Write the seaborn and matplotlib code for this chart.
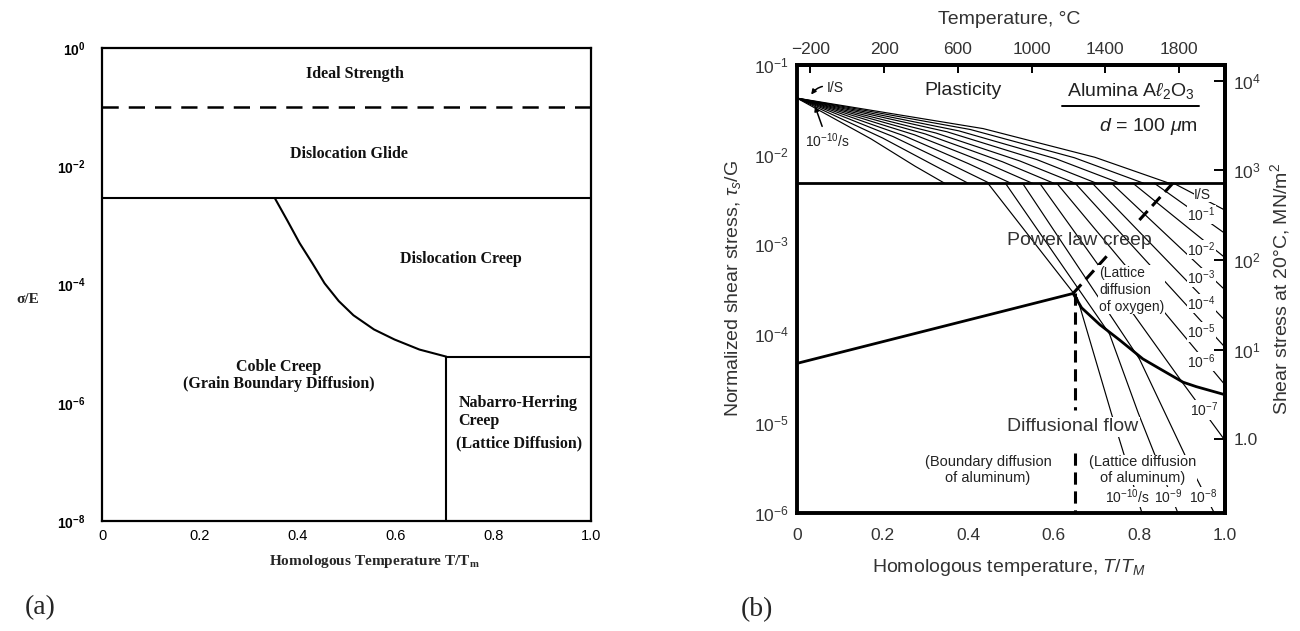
import matplotlib
matplotlib.use("Agg")
import numpy as np
import pandas as pd
import matplotlib.pyplot as plt
import seaborn as sns
from matplotlib.ticker import NullLocator

sns.set_theme(style="white")
plt.rcParams["font.family"] = ["Liberation Sans", "DejaVu Sans"]
plt.rcParams["mathtext.fontset"] = "custom"
plt.rcParams["mathtext.rm"] = "Liberation Sans"
plt.rcParams["mathtext.it"] = "Liberation Sans:italic"
plt.rcParams["mathtext.bf"] = "Liberation Sans:bold"
plt.rcParams["axes.edgecolor"] = "black"

SERIF = ["Liberation Serif", "DejaVu Serif"]

# ======================= DATA : panel (a) =======================
a_xticks = [0, 0.2, 0.4, 0.6, 0.8, 1.0]
a_xticklabels = ["0", "0.2", "0.4", "0.6", "0.8", "1.0"]
a_ytick_exp = [0, -2, -4, -6, -8]
a_ideal_logy = -1.0                # dashed: ideal strength / glide
a_glide_logy = -2.53               # glide / creep boundary
a_creep_x = [0.354, 0.379, 0.404, 0.430, 0.455, 0.484, 0.514, 0.556, 0.598, 0.649, 0.704]
a_creep_logy = [-2.55, -2.92, -3.30, -3.64, -3.98, -4.28, -4.52, -4.76, -4.93, -5.10, -5.22]
a_nh_x = 0.704                     # Coble / Nabarro-Herring boundary
a_nh_logy = -5.22
a_label_text = ["Ideal Strength", "Dislocation Glide", "Dislocation Creep",
                "Coble Creep", "(Grain Boundary Diffusion)",
                "Nabarro-Herring", "Creep", "(Lattice Diffusion)"]
a_label_x = [0.518, 0.504, 0.733, 0.362, 0.362, 0.729, 0.729, 0.723]
a_label_logy = [-0.44, -1.79, -3.57, -5.39, -5.68, -6.00, -6.31, -6.68]
a_label_ha = ["center", "center", "center", "center", "center", "left", "left", "left"]

# ======================= DATA : panel (b) =======================
b_xticks = [0, 0.2, 0.4, 0.6, 0.8, 1.0]
b_xticklabels = ["0", "0.2", "0.4", "0.6", "0.8", "1.0"]
b_ytick_exp = [-1, -2, -3, -4, -5, -6]
b_temp_ticks = [-200, 200, 600, 1000, 1400, 1800]     # deg C
b_melt_K = 2323.0
b_shear_mod = 1.5e5                                    # MN/m^2
b_stress_ticks = [1.0, 10, 100, 1000, 10000]
b_stress_labels = ["1.0", "$10^1$", "$10^2$", "$10^3$", "$10^4$"]

b_rates = ["I/S", "$10^{-1}$", "$10^{-2}$", "$10^{-3}$", "$10^{-4}$", "$10^{-5}$",
           "$10^{-6}$", "$10^{-7}$", "$10^{-8}$", "$10^{-9}$", "$10^{-10}$"]
b_plastic_logy = -2.32                                 # plasticity / power-law boundary
b_origin_logy = -1.37
# plasticity part of the strain-rate contours
b_pla_x1 = [0.435, 0.405, 0.378, 0.350, 0.325, 0.300, 0.275, 0.250, 0.225, 0.200, 0.173]
b_pla_y1 = [-1.71, -1.72, -1.735, -1.745, -1.76, -1.77, -1.78, -1.79, -1.80, -1.815, -1.825]
b_pla_x2 = [0.696, 0.648, 0.604, 0.560, 0.520, 0.480, 0.440, 0.400, 0.360, 0.320, 0.276]
b_pla_y2 = [-2.03, -2.035, -2.045, -2.055, -2.07, -2.08, -2.09, -2.10, -2.11, -2.12, -2.13]
b_pla_xc = [0.870, 0.810, 0.755, 0.700, 0.650, 0.600, 0.550, 0.500, 0.450, 0.400, 0.345]
# power-law part
b_pl_x0 = [0.880, 0.835, 0.785, 0.735, 0.690, 0.650, 0.607, 0.567, 0.527, 0.487, 0.446]
b_pl_x1 = [1.0, 1.0, 1.0, 1.0, 1.0, 1.0, 1.0, 0.900, 0.800, 0.730, 0.655]
b_pl_y1 = [-2.62, -2.88, -3.15, -3.51, -3.85, -4.15, -4.57, -4.54, -4.28, -4.00, -3.60]
# diffusional-flow part (rates 1e-7 .. 1e-10)
b_df_x = [[0.900, 1.0], [0.800, 0.914, 0.975], [0.730, 0.797, 0.890], [0.655, 0.734, 0.806]]
b_df_y = [[-4.54, -5.19], [-4.28, -5.43, -6.0], [-4.00, -4.88, -6.0], [-3.60, -4.88, -6.0]]

b_bnd_x = [0.0, 0.645]
b_bnd_y = [-4.33, -3.55]
b_curve_x = [0.645, 0.665, 0.708, 0.754, 0.808, 0.844, 0.902, 0.933, 1.0]
b_curve_y = [-3.55, -3.71, -3.90, -4.07, -4.28, -4.38, -4.54, -4.59, -4.68]
b_dash_a_x = [0.645, 0.732]; b_dash_a_y = [-3.55, -3.09]
b_dash_b_x = [0.800, 0.878]; b_dash_b_y = [-2.73, -2.32]
b_vdash_x = 0.650
b_vdash_y1 = [-3.55, -4.85]
b_vdash_y2 = [-5.33, -6.0]

b_ratelab_x = [0.948, 0.945, 0.945, 0.945, 0.945, 0.945, 0.945, 0.950]
b_ratelab_y = [-2.45, -2.67, -3.06, -3.37, -3.66, -3.98, -4.31, -4.85]
b_botlab_text = ["$10^{-10}$/s", "$10^{-9}$", "$10^{-8}$"]
b_botlab_x = [0.772, 0.866, 0.950]
b_botlab_y = -5.82

# ======================= FIGURE =======================
fig = plt.figure(figsize=(13, 6.31), dpi=100)
fig.patch.set_facecolor("white")

# ----------------------- panel (a) -----------------------
axa = fig.add_axes([0.0785, 0.1743, 0.3762, 0.7496])
axa.set_yscale("log")
axa.set_xlim(0, 1)
axa.set_ylim(1e-8, 1)

axa.plot([0, 1], [10 ** a_ideal_logy] * 2, color="black", lw=1.8, ls=(0, (6.5, 4)))
axa.plot([0, 1], [10 ** a_glide_logy] * 2, color="black", lw=1.5)
dfa = pd.DataFrame({"x": a_creep_x, "y": [10 ** v for v in a_creep_logy]})
sns.lineplot(data=dfa, x="x", y="y", color="black", lw=1.5, sort=False,
             estimator=None, ax=axa)
axa.plot([a_nh_x, 1], [10 ** a_nh_logy] * 2, color="black", lw=1.5)
axa.plot([a_nh_x, a_nh_x], [1e-8, 10 ** a_nh_logy], color="black", lw=1.5)

for t, x, ly, ha in zip(a_label_text, a_label_x, a_label_logy, a_label_ha):
    axa.text(x, 10 ** ly, t, ha=ha, va="center", fontsize=11.5,
             fontweight="bold", family=SERIF, color="#111111")

axa.set_xticks(a_xticks)
axa.set_xticklabels(a_xticklabels)
axa.set_yticks([10.0 ** e for e in a_ytick_exp])
axa.set_yticklabels([r"$\mathbf{10^{%d}}$" % e for e in a_ytick_exp])
axa.yaxis.set_minor_locator(NullLocator())
axa.tick_params(axis="both", which="major", direction="in", length=16, width=1.6,
                color="black", labelcolor="black")
axa.tick_params(axis="x", labelsize=10.5, pad=6)
axa.tick_params(axis="y", labelsize=10, pad=12)
axa.set_xlabel("")
axa.set_ylabel("")
for s in axa.spines.values():
    s.set_linewidth(1.6)
    s.set_color("black")

fig.text(28 / 1300, 1 - 299 / 631, "σ/E", ha="center", va="center",
         fontsize=11, fontweight="bold", family=SERIF)
fig.text(374 / 1300, 1 - 562 / 631, "Homologous Temperature T/T$_\\mathregular{m}$",
         ha="center", va="center", fontsize=11, fontweight="bold", family=SERIF)
fig.text(40 / 1300, 1 - 608 / 631, "(a)", ha="center", va="center",
         fontsize=20, family=SERIF)

# ----------------------- panel (b) -----------------------
axb = fig.add_axes([0.6131, 0.1870, 0.3292, 0.7100])
axb.set_yscale("log")
axb.set_xlim(0, 1)
axb.set_ylim(1e-6, 1e-1)

rows = []
sid = 0
for i in range(len(b_rates)):
    xs = [0.0, b_pla_x1[i], b_pla_x2[i], b_pla_xc[i]]
    ys = [b_origin_logy, b_pla_y1[i], b_pla_y2[i], b_plastic_logy]
    rows += [(sid, x, 10 ** y) for x, y in zip(xs, ys)]
    sid += 1
    xs = [b_pl_x0[i], b_pl_x1[i]]
    ys = [b_plastic_logy, b_pl_y1[i]]
    rows += [(sid, x, 10 ** y) for x, y in zip(xs, ys)]
    sid += 1
for xs, ys in zip(b_df_x, b_df_y):
    rows += [(sid, x, 10 ** y) for x, y in zip(xs, ys)]
    sid += 1
dfb = pd.DataFrame(rows, columns=["seg", "x", "y"])
sns.lineplot(data=dfb, x="x", y="y", units="seg", estimator=None, sort=False,
             color="black", lw=0.85, ax=axb, legend=False)

axb.plot([0, 1], [10 ** b_plastic_logy] * 2, color="black", lw=2.0)
dfc = pd.DataFrame({"x": b_bnd_x + b_curve_x[1:],
                    "y": [10 ** v for v in b_bnd_y + b_curve_y[1:]]})
sns.lineplot(data=dfc, x="x", y="y", sort=False, estimator=None, color="black",
             lw=2.0, ax=axb)
dash = (0, (4.0, 2.2))
axb.plot(b_dash_a_x, [10 ** v for v in b_dash_a_y], color="black", lw=2.2, ls=dash)
axb.plot(b_dash_b_x, [10 ** v for v in b_dash_b_y], color="black", lw=2.2, ls=dash)
axb.plot([b_vdash_x] * 2, [10 ** v for v in b_vdash_y1], color="black", lw=2.2, ls=dash)
axb.plot([b_vdash_x] * 2, [10 ** v for v in b_vdash_y2], color="black", lw=2.2, ls=dash)

# region texts
axb.text(0.388, 10 ** -1.29, "Plasticity", ha="center", va="center", fontsize=14, color="#222222")
axb.text(0.78, 10 ** -1.29, r"Alumina A$\ell_2$O$_3$", ha="center", va="center",
         fontsize=14, color="#222222")
axb.plot([0.62, 0.94], [10 ** -1.46] * 2, color="black", lw=1.4)
axb.text(0.82, 10 ** -1.69, r"$d$ = 100 $\mu$m", ha="center", va="center",
         fontsize=14, color="#222222")
axb.text(0.66, 10 ** -2.96, "Power law creep", ha="center", va="center",
         fontsize=14, color="#333333")
axb.text(0.706, 10 ** -3.51, "(Lattice\ndiffusion\nof oxygen)", ha="left", va="center",
         fontsize=10, linespacing=1.25, color="#222222",
         bbox=dict(facecolor="white", edgecolor="none", pad=0.5))
axb.text(0.645, 10 ** -5.04, "Diffusional flow", ha="center", va="center",
         fontsize=14, color="#333333", zorder=5,
         bbox=dict(facecolor="white", edgecolor="none", pad=1.0))
axb.text(0.446, 10 ** -5.52, "(Boundary diffusion\nof aluminum)", ha="center",
         va="center", fontsize=10.5, linespacing=1.1, color="#222222")
axb.text(0.808, 10 ** -5.52, "(Lattice diffusion\nof aluminum)", ha="center",
         va="center", fontsize=10.5, linespacing=1.1, color="#222222", zorder=5,
         bbox=dict(facecolor="white", edgecolor="none", pad=0.5))

for t, x, ly in zip(b_rates[:8], b_ratelab_x, b_ratelab_y):
    axb.text(x, 10 ** ly, t, ha="center", va="center", fontsize=10, color="#222222",
             zorder=5, bbox=dict(facecolor="white", edgecolor="none", pad=0.3))
for t, x in zip(b_botlab_text, b_botlab_x):
    axb.text(x, 10 ** b_botlab_y, t, ha="center", va="center", fontsize=10,
             color="#222222", zorder=5,
             bbox=dict(facecolor="white", edgecolor="none", pad=0.3))

arrow_kw = dict(arrowstyle="-|>", color="black", lw=1.1, mutation_scale=7,
                shrinkA=1, shrinkB=0)
axb.annotate("I/S", xy=(0.033, 10 ** -1.33), xytext=(0.07, 10 ** -1.26),
             ha="left", va="center", fontsize=10, color="#222222",
             arrowprops=dict(connectionstyle="arc3,rad=0.4", **arrow_kw))
axb.annotate("$10^{-10}$/s", xy=(0.042, 10 ** -1.46), xytext=(0.018, 10 ** -1.84),
             ha="left", va="center", fontsize=10, color="#222222",
             arrowprops=dict(connectionstyle="arc3,rad=0.0", **arrow_kw))

# axes / ticks
axb.set_xticks(b_xticks)
axb.set_xticklabels(b_xticklabels)
axb.set_yticks([10.0 ** e for e in b_ytick_exp])
axb.set_yticklabels([r"$10^{%d}$" % e for e in b_ytick_exp])
axb.yaxis.set_minor_locator(NullLocator())
axb.tick_params(axis="x", direction="in", length=8, width=1.4, labelsize=12.5,
                pad=11, color="black", labelcolor="#333333")
axb.tick_params(axis="y", direction="in", length=9, width=1.4, labelsize=12.5,
                pad=6, color="black", labelcolor="#333333")
axb.set_xlabel("")
axb.set_ylabel("")
for s in axb.spines.values():
    s.set_linewidth(2.8)
    s.set_color("black")

secx = axb.secondary_xaxis("top", functions=(lambda x: x * b_melt_K - 273.0,
                                             lambda t: (t + 273.0) / b_melt_K))
secx.set_xticks(b_temp_ticks)
secx.set_xticklabels(["\u2212200", "200", "600", "1000", "1400", "1800"])
secx.tick_params(axis="x", direction="in", length=6, width=1.4, labelsize=12.5,
                 pad=6, color="black", labelcolor="#333333")
secx.xaxis.set_minor_locator(NullLocator())
for s in secx.spines.values():
    s.set_linewidth(2.8)

secy = axb.secondary_yaxis("right", functions=(lambda y: y * b_shear_mod,
                                               lambda s: s / b_shear_mod))
secy.set_yticks(b_stress_ticks)
secy.set_yticklabels(b_stress_labels)
secy.yaxis.set_minor_locator(NullLocator())
secy.tick_params(axis="y", direction="in", length=8, width=1.4, labelsize=12.5,
                 pad=6, color="black", labelcolor="#333333")
for s in secy.spines.values():
    s.set_linewidth(2.8)

fig.text(733 / 1300, 1 - 289 / 631, r"Normalized shear stress, $\tau_s$/G",
         rotation=90, ha="center", va="center", fontsize=14, color="#333333")
fig.text(1280 / 1300, 1 - 289 / 631, "Shear stress at 20°C, MN/m$^2$",
         rotation=90, ha="center", va="center", fontsize=14, color="#333333")
fig.text(1009 / 1300, 1 - 20 / 631, "Temperature, °C", ha="center", va="center",
         fontsize=14, color="#333333")
fig.text(1009 / 1300, 1 - 568 / 631, r"Homologous temperature, $T/T_M$",
         ha="center", va="center", fontsize=14, color="#333333")
fig.text(757 / 1300, 1 - 610 / 631, "(b)", ha="center", va="center",
         fontsize=20, family=SERIF)

fig.savefig("out.png", dpi=100, facecolor="white")
